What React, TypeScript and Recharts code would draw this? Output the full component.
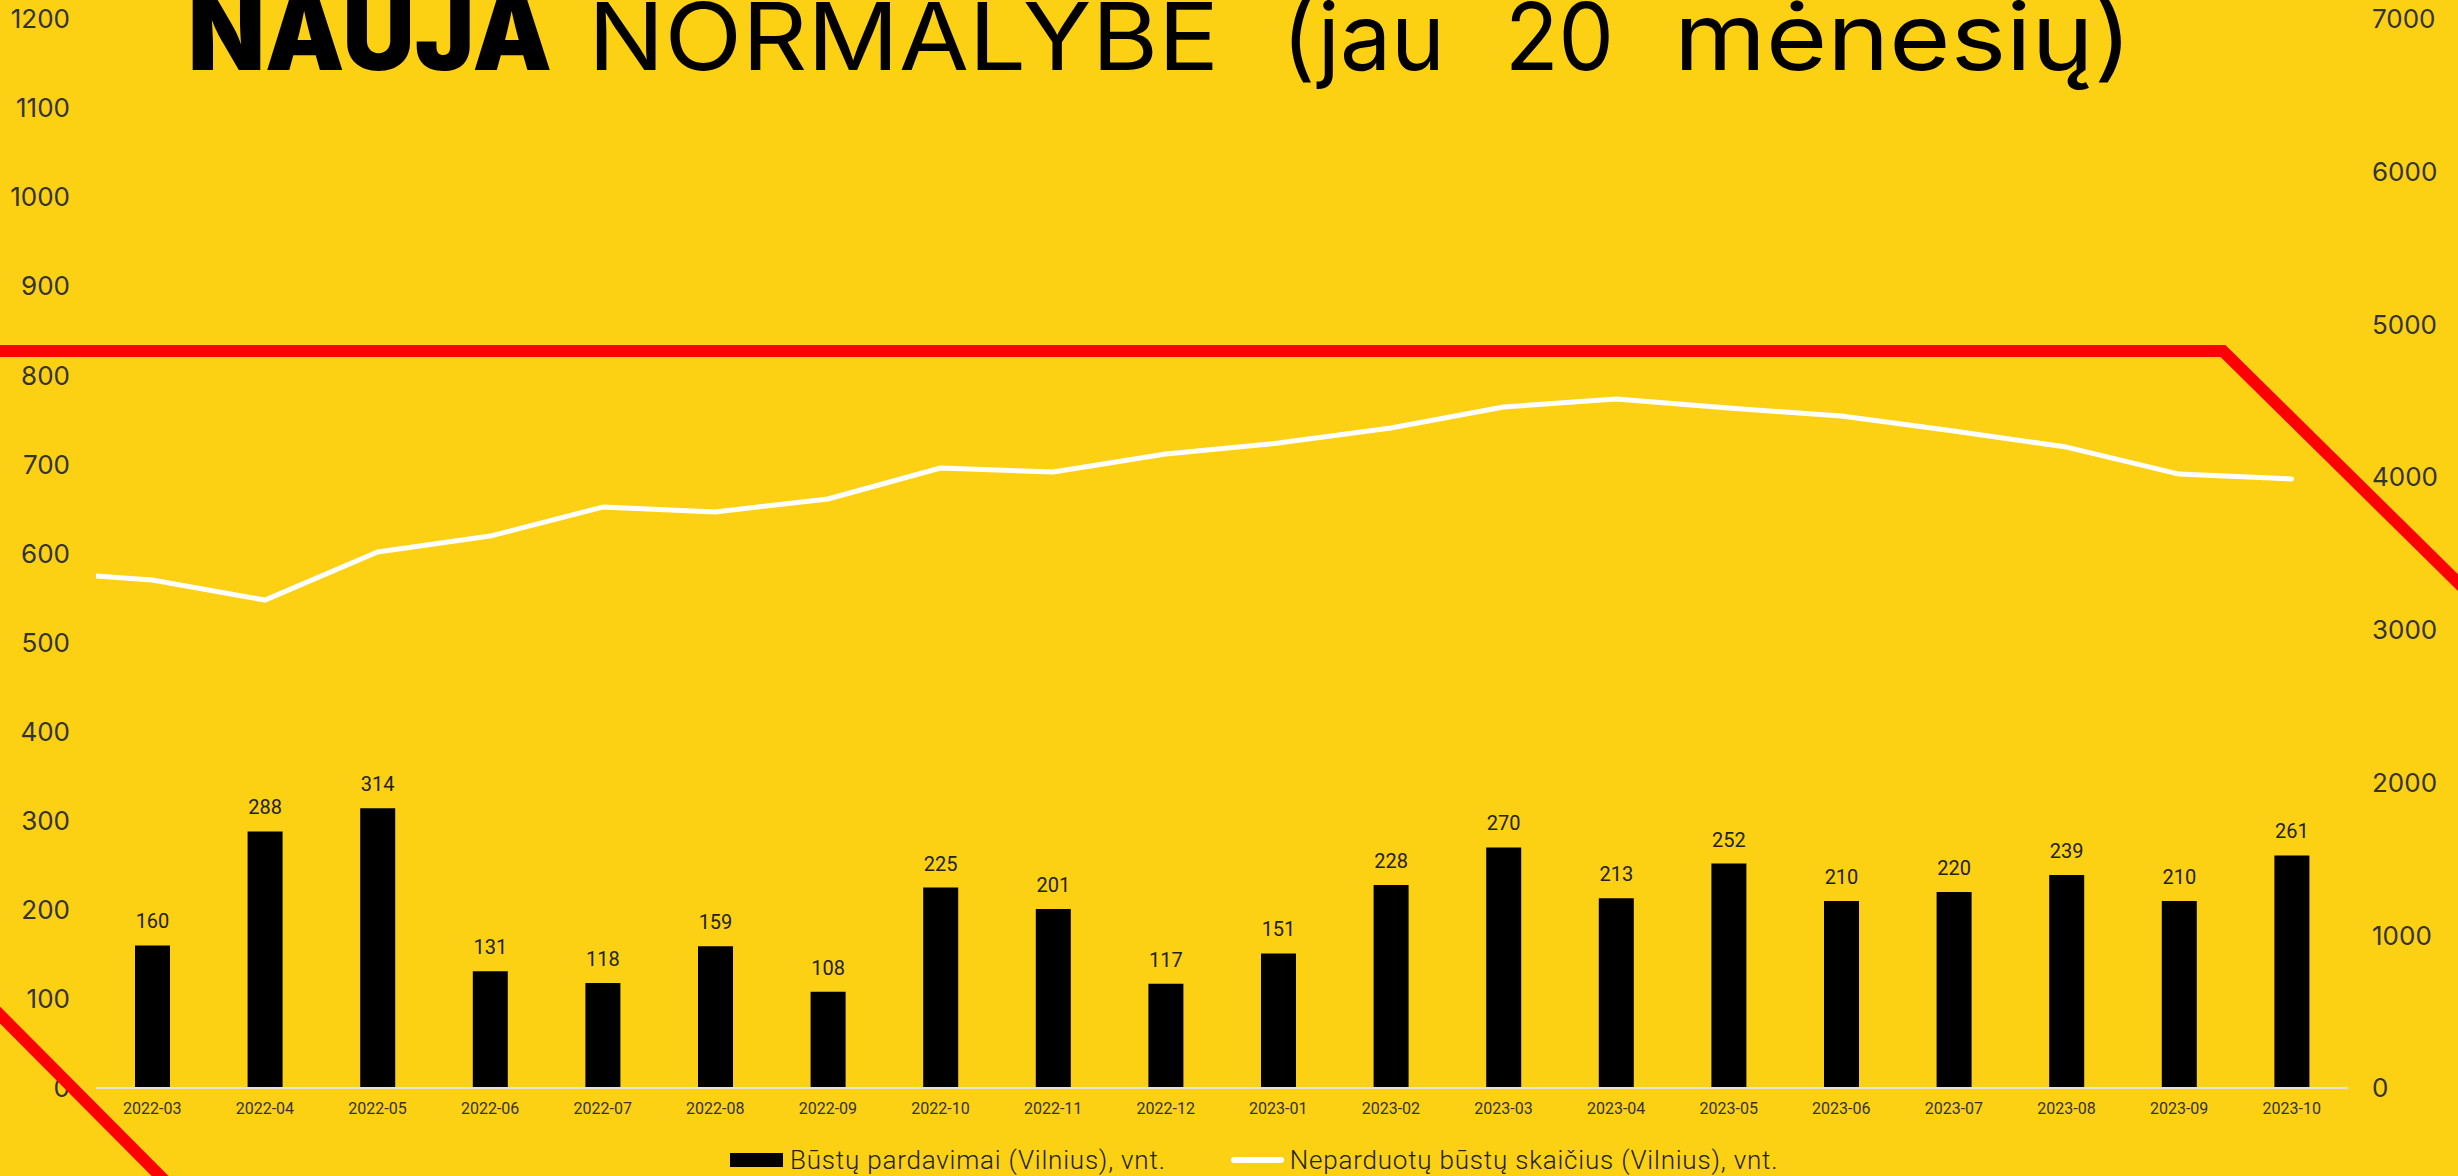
import React from 'react';
import { ComposedChart, Bar, Line, XAxis, YAxis, Legend, LabelList } from 'recharts';

const months = ['2022-03','2022-04','2022-05','2022-06','2022-07','2022-08','2022-09','2022-10','2022-11','2022-12','2023-01','2023-02','2023-03','2023-04','2023-05','2023-06','2023-07','2023-08','2023-09','2023-10'];
const sales = [160,288,314,131,118,159,108,225,201,117,151,228,270,213,252,210,220,239,210,261];
const unsold = [3326,3195,3510,3614,3804,3772,3857,4060,4034,4151,4223,4322,4459,4512,4453,4400,4302,4197,4020,3988];
// previous month (2022-02), only partly visible, clipped at the plot's left edge
const unsoldBefore = 3380;
const leftTicks = [0,100,200,300,400,500,600,700,800,900,1000,1100,1200];
const rightTicks = [0,1000,2000,3000,4000,5000,6000,7000];
const seriesNames = ['Būstų pardavimai (Vilnius), vnt.', 'Neparduotų būstų skaičius (Vilnius), vnt.'];
const titleBold = 'NAUJA';
const titleWords = ['NORMALYBĖ', '(jau', '20', 'mėnesių)'];

const W = 2458;
const H = 1176;
const BG = '#FCD013';

const barData = months.map((m, i) => ({ month: m, sales: sales[i] }));
const lineData = [{ idx: -1, unsold: unsoldBefore }, ...unsold.map((v, i) => ({ idx: i, unsold: v }))];

const titleLayout = [
  { x: 588, w: 631 },
  { x: 1282, w: 163 },
  { x: 1505, w: 109 },
  { x: 1674, w: 458 },
];

const LegendContent = () => (
  <div style={{ display: 'flex', alignItems: 'center', height: 48, paddingTop: 16, paddingLeft: 730, boxSizing: 'border-box', fontFamily: 'Roboto', fontWeight: 300, fontSize: 26, letterSpacing: 0.8, color: '#222', whiteSpace: 'nowrap' }}>
    <div style={{ width: 53, height: 14, background: '#000', marginRight: 7 }} />
    <span>{seriesNames[0]}</span>
    <div style={{ width: 53, height: 6, background: '#fff', borderRadius: 3, marginLeft: 65, marginRight: 6 }} />
    <span>{seriesNames[1]}</span>
  </div>
);

export default function App() {
  return (
    <div style={{ position: 'absolute', left: 0, top: 0, width: W, height: H, background: BG, overflow: 'hidden' }}>
      <ComposedChart width={W} height={H} data={barData} margin={{ top: 19, right: 0, left: 0, bottom: 0 }}>
        <XAxis xAxisId="cat" dataKey="month" type="category" height={40} tickSize={0} tickMargin={15}
          axisLine={{ stroke: '#e2e2e2', strokeWidth: 2 }} tickLine={false} interval={0}
          tick={{ fontFamily: 'Roboto', fontSize: 16, fill: '#333' }} />
        <XAxis xAxisId="num" dataKey="idx" type="number" domain={[-0.5, 19.5]} allowDataOverflow hide />
        <YAxis yAxisId="left" orientation="left" width={96} domain={[0, 1200]} ticks={leftTicks} interval={0}
          axisLine={false} tickLine={false} tickSize={0} tickMargin={26}
          tick={{ fontFamily: 'Inter', fontSize: 26, fill: '#333' }} />
        <YAxis yAxisId="right" orientation="right" width={110} domain={[0, 7000]} ticks={rightTicks} interval={0}
          axisLine={false} tickLine={false} tickSize={0} tickMargin={24}
          tick={{ fontFamily: 'Inter', fontSize: 26, fill: '#333', textAnchor: 'start' }} />
        <Bar xAxisId="cat" yAxisId="left" dataKey="sales" name={seriesNames[0]} fill="#000" barSize={35} isAnimationActive={false}>
          <LabelList dataKey="sales" position="top" offset={17} style={{ fontFamily: 'Roboto', fontSize: 20, fill: '#222' }} />
        </Bar>
        <Line xAxisId="num" yAxisId="right" data={lineData} dataKey="unsold" name={seriesNames[1]} stroke="#fff" strokeWidth={5}
          strokeLinecap="round" strokeLinejoin="round" dot={false} activeDot={false} type="linear" isAnimationActive={false} />
        <Legend verticalAlign="bottom" content={LegendContent} wrapperStyle={{ left: 0, width: W, height: 48 }} />
      </ComposedChart>
      <svg width={W} height={H} style={{ position: 'absolute', left: 0, top: 0, pointerEvents: 'none' }}>
        <text x={188} y={70} fontFamily="Inter" fontWeight={900} fontSize={104} fill="#000" textLength={364} lengthAdjust="spacingAndGlyphs">{titleBold}</text>
        {titleWords.map((w, i) => (
          <text key={w} x={titleLayout[i].x} y={70} fontFamily="Inter" fontWeight={400} fontSize={93} fill="#000"
            textLength={titleLayout[i].w} lengthAdjust="spacingAndGlyphs">{w}</text>
        ))}
        <polyline points="0,351 2223,351 2500,624" fill="none" stroke="#FF0000" strokeWidth={12} />
        <polyline points="-20,995 180,1196" fill="none" stroke="#FF0000" strokeWidth={12} />
      </svg>
    </div>
  );
}
